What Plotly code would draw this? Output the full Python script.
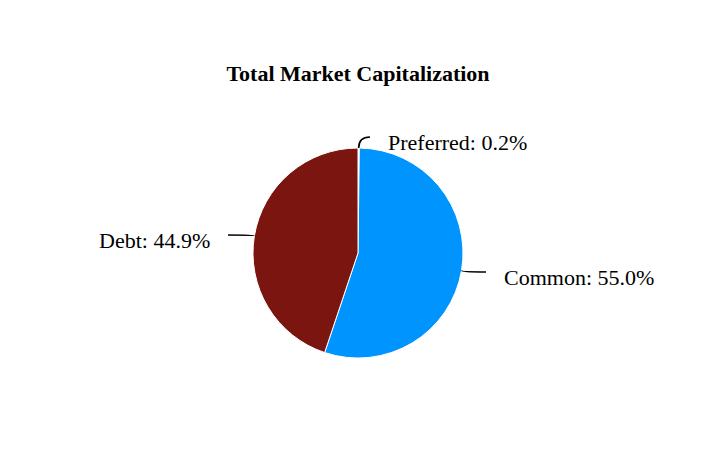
import math
import plotly.graph_objects as go

labels = ['Preferred', 'Common', 'Debt']
values = [0.2, 55.0, 44.9]
colors = ['#f2f2f2', '#0094ff', '#7b150f']

W, H = 716, 452
OFF = 8  # page body margin
cx, cy, r = 358 - OFF, 253 - OFF, 105
font = 'Liberation Serif, Times New Roman, serif'

# where each label text sits (pixels): x, y, anchor
label_pos = [(386 - OFF, 142 - OFF, 'left'), (502 - OFF, 277 - OFF, 'left'), (212 - OFF, 240 - OFF, 'right')]


def px(x, y):
    return x / W, 1 - y / H


fig = go.Figure(go.Pie(
    labels=labels, values=values, sort=False, direction='clockwise', rotation=0,
    marker=dict(colors=colors, line=dict(color='white', width=1)),
    textinfo='none', hoverinfo='label+percent', showlegend=False,
    domain=dict(x=[(cx - r) / W, (cx + r) / W], y=[(H - cy - r) / H, (H - cy + r) / H]),
))

total = sum(values)
cum = 0
shapes = []
annotations = []
for lab, v, (tx, ty, anchor) in zip(labels, values, label_pos):
    mid = (cum + v / 2) / total * 2 * math.pi
    cum += v
    ex, ey = cx + r * math.sin(mid), cy - r * math.cos(mid)
    side = 1 if anchor == 'left' else -1
    lx, ly = tx - side * 16, ty - 5
    p0, c, p1 = px(ex, ey), px(ex, ly), px(lx, ly)
    shapes.append(dict(
        type='path', xref='paper', yref='paper',
        path=f'M {p0[0]},{p0[1]} Q {c[0]},{c[1]} {p1[0]},{p1[1]}',
        line=dict(color='black', width=1.6)))
    ax, ay = px(tx, ty)
    annotations.append(dict(
        x=ax, y=ay, xref='paper', yref='paper', showarrow=False,
        text=f'{lab}: {v:.1f}%', xanchor=anchor, yanchor='middle',
        font=dict(family=font, size=22, color='black')))

fig.update_layout(
    width=W, height=H, margin=dict(l=0, r=0, t=0, b=0),
    paper_bgcolor='white', plot_bgcolor='white',
    title=dict(text='<b>Total Market Capitalization</b>', x=(358 - OFF) / W, xanchor='center',
               y=1 - (73 - OFF) / H, yanchor='middle', font=dict(family=font, size=22, color='black')),
    shapes=shapes, annotations=annotations,
)
fig.write_html('out.html')
